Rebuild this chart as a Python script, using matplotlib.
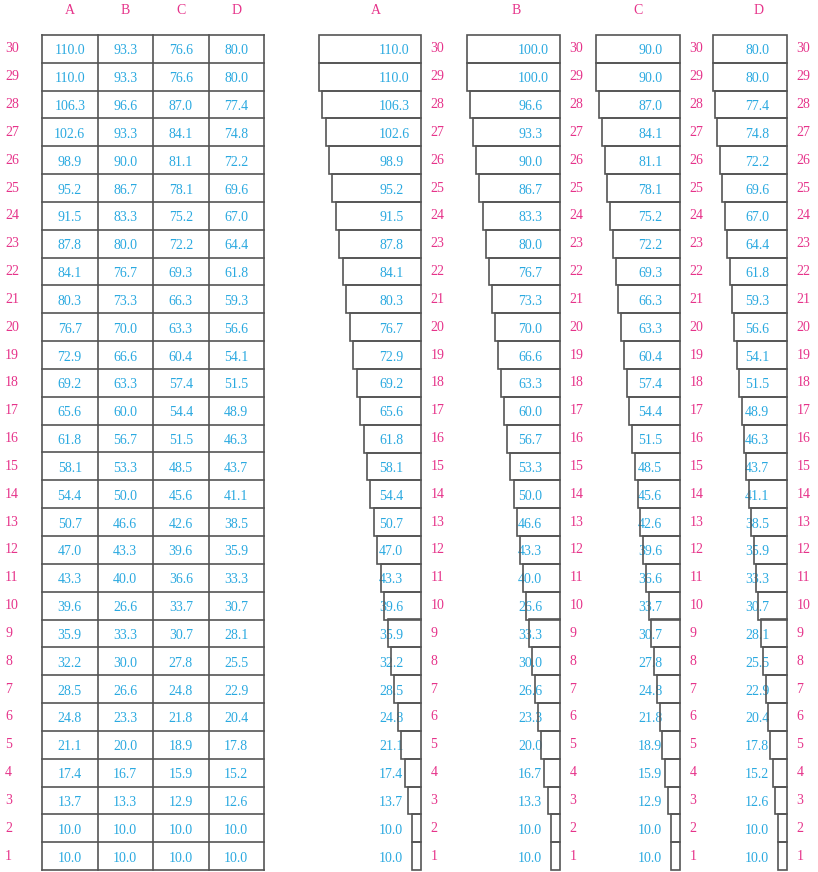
import matplotlib.pyplot as plt

plt.rcParams['font.family'] = ['Liberation Serif', 'DejaVu Serif']

rows = list(range(1, 31))
cols = ['A', 'B', 'C', 'D']

# table values, row 1 .. row 30
tab_a = [10.0, 10.0, 13.7, 17.4, 21.1, 24.8, 28.5, 32.2, 35.9, 39.6, 43.3, 47.0, 50.7, 54.4, 58.1,
         61.8, 65.6, 69.2, 72.9, 76.7, 80.3, 84.1, 87.8, 91.5, 95.2, 98.9, 102.6, 106.3, 110.0, 110.0]
tab_b = [10.0, 10.0, 13.3, 16.7, 20.0, 23.3, 26.6, 30.0, 33.3, 26.6, 40.0, 43.3, 46.6, 50.0, 53.3,
         56.7, 60.0, 63.3, 66.6, 70.0, 73.3, 76.7, 80.0, 83.3, 86.7, 90.0, 93.3, 96.6, 93.3, 93.3]
tab_c = [10.0, 10.0, 12.9, 15.9, 18.9, 21.8, 24.8, 27.8, 30.7, 33.7, 36.6, 39.6, 42.6, 45.6, 48.5,
         51.5, 54.4, 57.4, 60.4, 63.3, 66.3, 69.3, 72.2, 75.2, 78.1, 81.1, 84.1, 87.0, 76.6, 76.6]
tab_d = [10.0, 10.0, 12.6, 15.2, 17.8, 20.4, 22.9, 25.5, 28.1, 30.7, 33.3, 35.9, 38.5, 41.1, 43.7,
         46.3, 48.9, 51.5, 54.1, 56.6, 59.3, 61.8, 64.4, 67.0, 69.6, 72.2, 74.8, 77.4, 80.0, 80.0]

# bar chart values (rows 29/30 differ from the table for B and C)
bar_a = tab_a
bar_b = tab_b[:9] + [36.6] + tab_b[10:28] + [100.0, 100.0]
bar_c = tab_c[:28] + [90.0, 90.0]
bar_d = tab_d
# printed labels next to the bars (B row 10 bar is drawn at 36.6 but reads 26.6)
lab_a = bar_a
lab_b = tab_b[:28] + [100.0, 100.0]
lab_c = bar_c
lab_d = bar_d

PINK = '#e6338a'
BLUE = '#2aa9e0'
LINE = '#555555'
FS = 10

W, H = 818, 872
fig = plt.figure(figsize=(W / 100, H / 100), dpi=100)

def px_axes(x0, x1, y0, y1):
    return fig.add_axes([x0 / W, (H - y1) / H, (x1 - x0) / W, (y1 - y0) / H])

TOP, BOT = 35, 870
dy = 0.07  # values sit a touch below the row centre

# ---- table ----
ax = px_axes(42, 264, TOP, BOT)
ax.set_xlim(0, 4)
ax.set_ylim(0.5, 30.5)
ax.axis('off')
for k in range(5):
    ax.plot([k, k], [0.5, 30.5], color=LINE, lw=1.2, clip_on=False)
for r in range(31):
    ax.plot([0, 4], [r + 0.5, r + 0.5], color=LINE, lw=1.2, clip_on=False)
for j, vals in enumerate([tab_a, tab_b, tab_c, tab_d]):
    ax.text(j + 0.5, 31.38, cols[j], color=PINK, fontsize=FS, ha='center', va='center')
    for r, v in zip(rows, vals):
        ax.text(j + 0.5, r - dy, f'{v:.1f}', color=BLUE, fontsize=FS, ha='center', va='center')
for r in rows:
    ax.text(-0.665, r, str(r), color=PINK, fontsize=FS, ha='left', va='center', clip_on=False)

# ---- bar charts ----
scale = 0.93  # px per unit
span = 125
rights = [421, 560, 680, 787]
head_x = [376, 516, 638, 759]
for name, vals, labs, right, hx in zip(cols, [bar_a, bar_b, bar_c, bar_d],
                                       [lab_a, lab_b, lab_c, lab_d], rights, head_x):
    b = px_axes(right - span * scale, right, TOP, BOT)
    b.set_xlim(span, 0)
    b.set_ylim(0.5, 30.5)
    b.axis('off')
    for r, v in zip(rows, labs):
        b.text(45, r - dy, f'{v:.1f}', color=BLUE, fontsize=FS, ha='left', va='center', zorder=1)
        b.text(-9.5 / scale, r, str(r), color=PINK, fontsize=FS, ha='left', va='center',
               clip_on=False)
    b.barh(rows, vals, height=1.0, left=0, facecolor='none', edgecolor=LINE, lw=1.2,
           zorder=2, clip_on=False)
    fig.text(hx / W, 1 - 11 / H, name, color=PINK, fontsize=FS, ha='center', va='center')

fig.savefig('out.png', dpi=100)
